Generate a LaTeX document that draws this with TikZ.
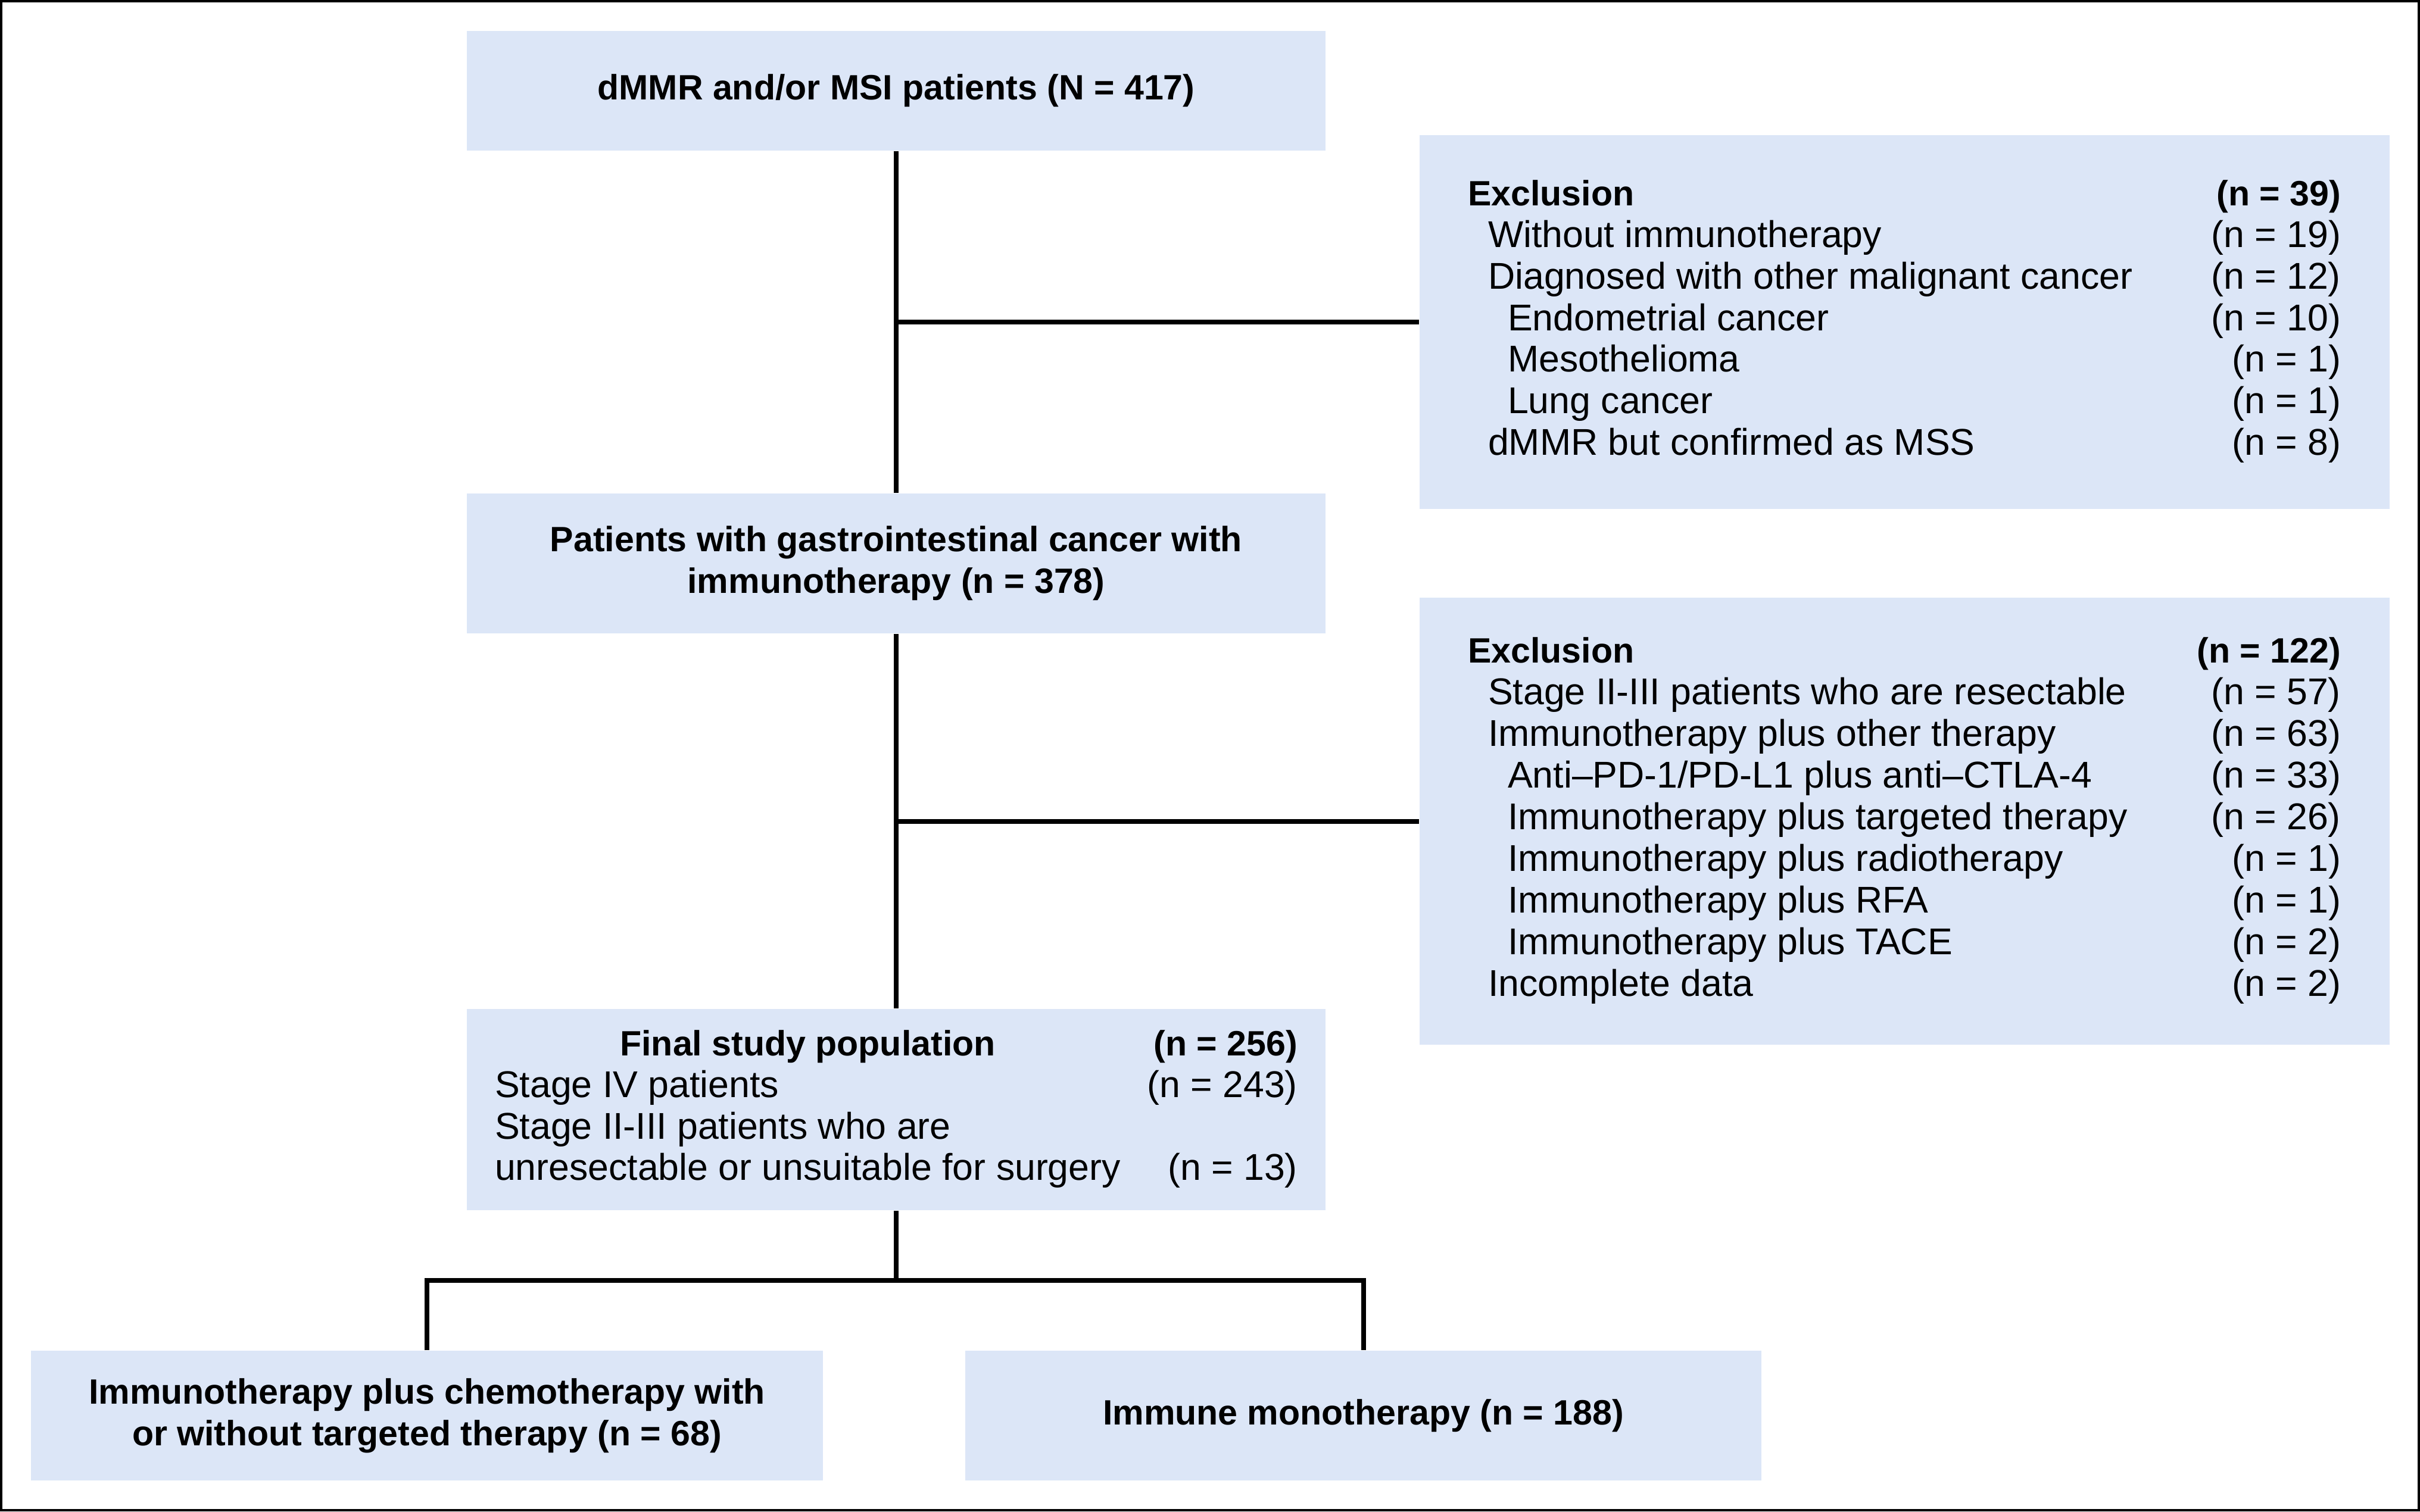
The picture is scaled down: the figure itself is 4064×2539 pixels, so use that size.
\documentclass[tikz,border=0pt]{standalone}
\usepackage{fontspec}
\setmainfont{Liberation Sans}

\definecolor{boxblue}{RGB}{220,230,247}
\newcommand{\ind}{\hspace*{0.34cm}}
\newcommand{\indd}{\hspace*{0.67cm}}
\newcommand{\hd}[1]{{\fontsize{16.8}{19.9}\selectfont\bfseries #1}}

\begin{document}
\begin{tikzpicture}[x=0.01cm,y=-0.01cm]
    \tikzstyle{box}=[fill=boxblue,inner sep=0pt,font=\fontsize{17.8}{19.9}\selectfont]
    \tikzstyle{boldbox}=[box,align=center,font=\fontsize{16.8}{19.9}\selectfont\bfseries]
    \tikzstyle{link}=[line width=0.08cm,draw=black]
    \useasboundingbox (0,0) rectangle (4064,2539);
    \draw[line width=0.04cm] (2,2) rectangle (4062,2537);

    \node (all)[boldbox,minimum width=14.42cm,minimum height=2.01cm] at (1505,152.5) {dMMR and/or MSI patients (N = 417)};
    \node (gi)[boldbox,minimum width=14.42cm,minimum height=2.35cm] at (1505,946.5) {Patients with gastrointestinal cancer with\\immunotherapy (n = 378)};
    \node (final)[box,minimum width=14.42cm,minimum height=3.38cm] at (1505,1864) {%
        \begin{tabular*}{13.47cm}{@{}l@{\extracolsep{\fill}}r@{}}
            \hfill\hd{Final study population}\hfill\null & \hd{(n = 256)}\\
            Stage IV patients & (n = 243)\\
            Stage II-III patients who are & \\
            unresectable or unsuitable for surgery & (n = 13)
        \end{tabular*}};
    \node (combo)[boldbox,minimum width=13.30cm,minimum height=2.18cm] at (717,2378) {Immunotherapy plus chemotherapy with\\or without targeted therapy (n = 68)};
    \node (mono)[boldbox,minimum width=13.37cm,minimum height=2.18cm] at (2289.5,2378) {Immune monotherapy (n = 188)};

    % exclusion boxes
    \node (excl1)[box,minimum width=16.28cm,minimum height=6.28cm] at (3198,541) {%
        \begin{tabular*}{14.65cm}{@{}l@{\extracolsep{\fill}}r@{}}
            \hd{Exclusion} & \hd{(n = 39)}\\
            \ind Without immunotherapy & (n = 19)\\
            \ind Diagnosed with other malignant cancer & (n = 12)\\
            \indd Endometrial cancer & (n = 10)\\
            \indd Mesothelioma & (n = 1)\\
            \indd Lung cancer & (n = 1)\\
            \ind dMMR but confirmed as MSS & (n = 8)
        \end{tabular*}};
    \node (excl2)[box,minimum width=16.28cm,minimum height=7.51cm] at (3198,1379.5) {%
        \begin{tabular*}{14.65cm}{@{}l@{\extracolsep{\fill}}r@{}}
            \hd{Exclusion} & \hd{(n = 122)}\\
            \ind Stage II-III patients who are resectable & (n = 57)\\
            \ind Immunotherapy plus other therapy & (n = 63)\\
            \indd Anti--PD-1/PD-L1 plus anti--CTLA-4 & (n = 33)\\
            \indd Immunotherapy plus targeted therapy & (n = 26)\\
            \indd Immunotherapy plus radiotherapy & (n = 1)\\
            \indd Immunotherapy plus RFA & (n = 1)\\
            \indd Immunotherapy plus TACE & (n = 2)\\
            \ind Incomplete data & (n = 2)
        \end{tabular*}};

    % connectors
    \draw[link] (all) -- (gi);
    \draw[link] (gi) -- (final);
    \draw[link] (excl1.west -| all.south) -- (excl1.west);
    \draw[link] (excl2.west -| gi.south) -- (excl2.west);
    \coordinate (split) at (1505,2151);
    \draw[link] (final) -- (split);
    \draw[link] (combo.north) |- (split) -| (mono.north);
\end{tikzpicture}
\end{document}
